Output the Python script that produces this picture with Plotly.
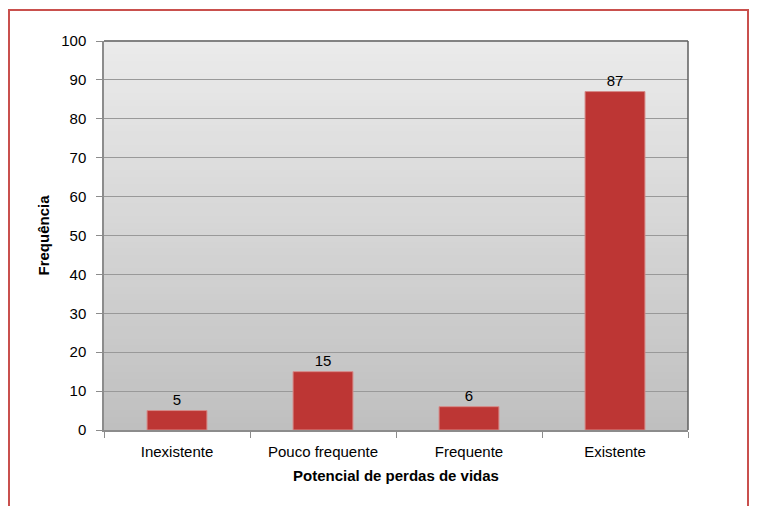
import plotly.graph_objects as go

categories = ["Inexistente", "Pouco frequente", "Frequente", "Existente"]
values = [5, 15, 6, 87]
y_ticks = [0, 10, 20, 30, 40, 50, 60, 70, 80, 90, 100]

# page body has an 8px margin, so figure coordinates are offset by 8px
OFF = 8
W, H = 759, 506
L, R, T, B = 104 - OFF, 71 + OFF, 41 - OFF, 76 + OFF
pw, ph = W - L - R, H - T - B

def px_x(x):
    return (x - OFF - L) / pw

def px_y(y):
    return (H - B - (y - OFF)) / ph

FONT = "Liberation Sans, Arial, sans-serif"

fig = go.Figure()
fig.add_trace(go.Bar(
    x=categories, y=values,
    marker=dict(color="#bd3634", line=dict(color="#d68a88", width=1)),
    text=[str(v) for v in values], textposition="outside",
    textfont=dict(family=FONT, size=15, color="#000000"),
    cliponaxis=False,
    width=0.41,
))

shapes = []
n = 60
top = (0xeb, 0xeb, 0xeb)
bot = (0xbf, 0xbf, 0xbf)
for i in range(n):
    f = (i + 0.5) / n
    c = tuple(int(round(bot[k] + (top[k] - bot[k]) * f)) for k in range(3))
    shapes.append(dict(type="rect", xref="paper", yref="paper",
                       x0=0, x1=1, y0=i / n, y1=(i + 1) / n + 0.002,
                       fillcolor="rgb(%d,%d,%d)" % c, line=dict(width=0), layer="below"))
shapes.append(dict(type="line", xref="paper", yref="paper", x0=0, x1=1, y0=1, y1=1,
                   line=dict(color="#5f5f5f", width=1.5), layer="above"))
shapes.append(dict(type="line", xref="paper", yref="paper", x0=1, x1=1, y0=0, y1=1,
                   line=dict(color="#5f5f5f", width=1.5), layer="above"))
shapes.append(dict(type="rect", xref="paper", yref="paper",
                   x0=px_x(9), x1=px_x(748), y0=px_y(10), y1=px_y(525),
                   fillcolor="rgba(0,0,0,0)", line=dict(color="#c9504d", width=2), layer="above"))

fig.update_layout(
    width=W, height=H,
    margin=dict(l=L, r=R, t=T, b=B),
    paper_bgcolor="#ffffff",
    plot_bgcolor="rgba(0,0,0,0)",
    showlegend=False,
    bargap=0.59,
    font=dict(family=FONT, size=15, color="#000000"),
    shapes=shapes,
    xaxis=dict(
        type="category",
        title=dict(text="<b>Potencial de perdas de vidas</b>", font=dict(family=FONT, size=15), standoff=12),
        tickfont=dict(family=FONT, size=15, color="#000000"),
        ticklabelstandoff=7,
        showgrid=False, showline=True, linecolor="#8c8c8c", linewidth=1.5,
        ticks="outside", tickson="boundaries", ticklen=6, tickcolor="#8c8c8c",
    ),
    yaxis=dict(
        range=[0, 100], tickvals=y_ticks,
        title=dict(text="<b>Frequência</b>", font=dict(family=FONT, size=15), standoff=8),
        tickfont=dict(family=FONT, size=15, color="#000000"),
        ticklabelstandoff=7,
        showgrid=True, gridcolor="#999999", gridwidth=1,
        showline=True, linecolor="#8c8c8c", linewidth=1.5,
        ticks="outside", ticklen=6, tickcolor="#8c8c8c",
        zeroline=False,
    ),
)

fig.write_html("out.html")
